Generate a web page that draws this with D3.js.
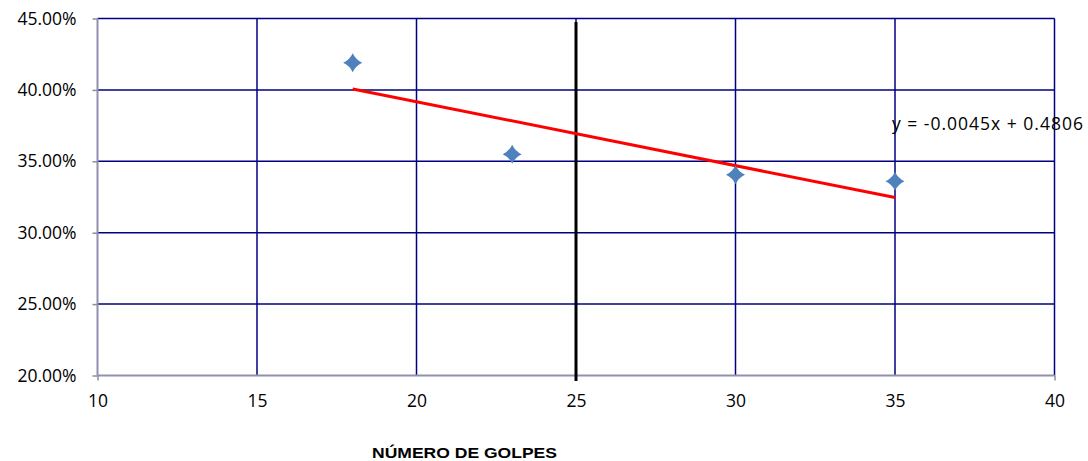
<!DOCTYPE html>
<html><head><meta charset="utf-8">
<script src="https://cdn.jsdelivr.net/npm/d3@7"></script>
<style>body{margin:0;background:#fff}svg{display:block}</style>
</head><body>
<svg id="c" width="1088" height="461"></svg>
<script>
const golpes = [18, 23, 30, 35];
const humedad = [0.419, 0.355, 0.3405, 0.336];
const xTicks = [10, 15, 20, 25, 30, 35, 40];
const yTicks = [0.20, 0.25, 0.30, 0.35, 0.40, 0.45];
const refX = 25;
const eqLabel = "y = -0.0045x + 0.4806";
const xTitle = "NÚMERO DE GOLPES";

const svg = d3.select("#c");
const x = d3.scaleLinear().domain([10, 40]).range([97.5, 1054.5]);
const y = d3.scaleLinear().domain([0.20, 0.45]).range([375.5, 18.5]);

// gridlines
svg.append("g").selectAll("line").data(yTicks.slice(1)).join("line")
  .attr("x1", x(10)).attr("x2", x(40)).attr("y1", d => y(d)).attr("y2", d => y(d))
  .attr("stroke", "#000080").attr("stroke-width", 1.5);
svg.append("g").selectAll("line").data(xTicks.slice(1)).join("line")
  .attr("y1", y(0.20)).attr("y2", y(0.45)).attr("x1", d => x(d)).attr("x2", d => x(d))
  .attr("stroke", "#000080").attr("stroke-width", 1.5);

// axes
const fmt = d3.format(".2%");
const yAxis = svg.append("g").attr("transform", `translate(${x(10)},0)`)
  .call(d3.axisLeft(y).tickValues(yTicks).tickFormat(fmt).tickSize(5).tickPadding(16));
const xAxis = svg.append("g").attr("transform", `translate(0,${y(0.20)})`)
  .call(d3.axisBottom(x).tickValues(xTicks).tickSize(5).tickPadding(14));
[yAxis, xAxis].forEach(a => {
  a.select(".domain").attr("stroke", "#9090b0").attr("stroke-width", 2);
  a.selectAll(".tick line").attr("stroke", "#8c8c9c").attr("stroke-width", 1.5);
  a.selectAll("text").attr("font-family", "Open Sans, Liberation Sans, sans-serif")
    .attr("font-size", 17.5).attr("fill", "#000");
});
xAxis.selectAll(".tick line").filter(d => d !== 10 && d !== 40).attr("stroke", "none");
yAxis.selectAll(".domain").attr("d", `M0,${y(0.45)}V${y(0.20)}`);
xAxis.selectAll(".domain").attr("d", `M${x(10)},0H${x(40)}`);

// reference vertical line
svg.append("line").attr("x1", x(refX)).attr("x2", x(refX))
  .attr("y1", 22).attr("y2", 381).attr("stroke", "#000").attr("stroke-width", 3);

// trend line (least squares)
const mx = d3.mean(golpes), my = d3.mean(humedad);
const sxy = d3.sum(golpes, (g, i) => (g - mx) * (humedad[i] - my));
const sxx = d3.sum(golpes, g => (g - mx) ** 2);
const slope = sxy / sxx, icpt = my - slope * mx;
const x0 = d3.min(golpes), x1 = d3.max(golpes);
svg.append("line")
  .attr("x1", x(x0)).attr("y1", y(slope * x0 + icpt))
  .attr("x2", x(x1)).attr("y2", y(slope * x1 + icpt))
  .attr("stroke", "#ff0000").attr("stroke-width", 3);

// markers
const s = 9.5;
svg.append("g").selectAll("path").data(golpes).join("path")
  .attr("d", `M0,${-s}Q3,-3 ${s},0Q3,3 0,${s}Q-3,3 ${-s},0Q-3,-3 0,${-s}Z`)
  .attr("transform", (d, i) => `translate(${x(d)},${y(humedad[i])})`)
  .attr("fill", "#4f81bd");

// equation label
svg.append("text").attr("x", 892).attr("y", 130).text(eqLabel)
  .attr("font-family", "Open Sans, Liberation Sans, sans-serif").attr("font-size", 17.5)
  .attr("textLength", 191).attr("lengthAdjust", "spacing").attr("fill", "#000");

// x title
svg.append("text").attr("x", 372).attr("y", 458).text(xTitle)
  .attr("font-family", "Liberation Sans, Arial, sans-serif").attr("font-weight", "bold")
  .attr("font-size", 15).attr("textLength", 185).attr("lengthAdjust", "spacingAndGlyphs").attr("fill", "#000");
</script>
</body></html>
